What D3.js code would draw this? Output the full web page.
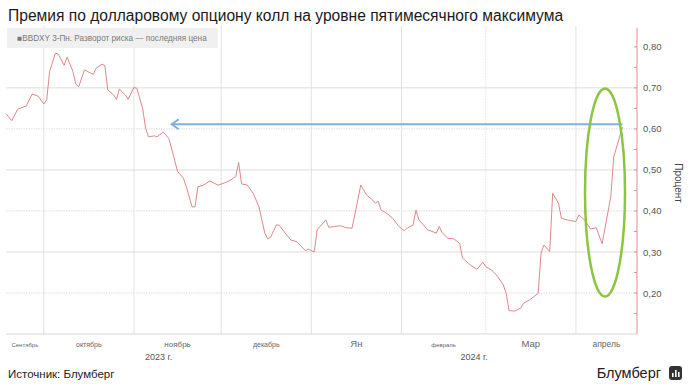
<!DOCTYPE html>
<html>
<head>
<meta charset="utf-8">
<script src="https://cdn.jsdelivr.net/npm/d3@7.9.0/dist/d3.min.js"></script>
<style>
  body { margin: 0; background: #fff; }
  svg { display: block; font-family: "Liberation Sans", Arial, sans-serif; }
</style>
</head>
<body>
<svg id="chart" width="688" height="387"></svg>
<script>
// BBDXY 3M risk reversal, last price
const dates = [
  '2023-09-18','2023-09-20','2023-09-22','2023-09-25','2023-09-27','2023-09-29',
  '2023-10-01','2023-10-02','2023-10-03','2023-10-05','2023-10-06','2023-10-08','2023-10-09',
  '2023-10-11','2023-10-12','2023-10-13','2023-10-15','2023-10-16','2023-10-18','2023-10-19',
  '2023-10-21','2023-10-22','2023-10-23','2023-10-25','2023-10-26','2023-10-27','2023-10-29','2023-10-30',
  '2023-11-01','2023-11-02','2023-11-04','2023-11-05','2023-11-06','2023-11-08','2023-11-09',
  '2023-11-11','2023-11-12','2023-11-13','2023-11-15','2023-11-16','2023-11-18','2023-11-19',
  '2023-11-21','2023-11-22','2023-11-23','2023-11-25','2023-11-27','2023-11-30',
  '2023-12-02','2023-12-04','2023-12-06','2023-12-07','2023-12-08','2023-12-10','2023-12-12',
  '2023-12-14','2023-12-16','2023-12-17','2023-12-18','2023-12-20','2023-12-21','2023-12-23',
  '2023-12-25','2023-12-27','2023-12-30','2023-12-31',
  '2024-01-02','2024-01-03','2024-01-06','2024-01-07','2024-01-09','2024-01-11','2024-01-13',
  '2024-01-15','2024-01-17','2024-01-18','2024-01-20','2024-01-22','2024-01-23','2024-01-24',
  '2024-01-25','2024-01-27','2024-01-29','2024-01-31',
  '2024-02-02','2024-02-03','2024-02-05','2024-02-06','2024-02-07','2024-02-09','2024-02-10',
  '2024-02-13','2024-02-14','2024-02-15','2024-02-17','2024-02-19','2024-02-21','2024-02-22',
  '2024-02-23','2024-02-25','2024-02-27','2024-02-29',
  '2024-03-01','2024-03-03','2024-03-05','2024-03-07','2024-03-08','2024-03-09','2024-03-11',
  '2024-03-13','2024-03-14','2024-03-16','2024-03-19','2024-03-20','2024-03-21','2024-03-23',
  '2024-03-24','2024-03-26','2024-03-27','2024-03-29',
  '2024-04-01','2024-04-02','2024-04-04','2024-04-06','2024-04-08','2024-04-10','2024-04-13',
  '2024-04-14','2024-04-17'
];
const values = [
  0.637, 0.620, 0.648, 0.656, 0.685, 0.680,
  0.661, 0.671, 0.740, 0.785, 0.782, 0.755, 0.775,
  0.740, 0.709, 0.703, 0.744, 0.740, 0.733, 0.748,
  0.758, 0.754, 0.695, 0.683, 0.672, 0.697, 0.683, 0.672,
  0.701, 0.699, 0.650, 0.602, 0.581, 0.583, 0.581,
  0.592, 0.585, 0.577, 0.524, 0.496, 0.480, 0.459,
  0.410, 0.410, 0.459, 0.463, 0.473, 0.463,
  0.468, 0.474, 0.484, 0.518, 0.466, 0.463, 0.443,
  0.410, 0.346, 0.332, 0.336, 0.366, 0.365, 0.346,
  0.329, 0.325, 0.303, 0.307,
  0.300, 0.354, 0.378, 0.360, 0.362, 0.364, 0.359,
  0.358, 0.427, 0.463, 0.439, 0.427, 0.419, 0.424,
  0.402, 0.394, 0.382, 0.363,
  0.352, 0.358, 0.366, 0.402, 0.378, 0.362, 0.354,
  0.346, 0.362, 0.347, 0.333, 0.332, 0.321, 0.285,
  0.279, 0.266, 0.258, 0.275,
  0.264, 0.256, 0.241, 0.220, 0.199, 0.157, 0.156,
  0.163, 0.175, 0.183, 0.199, 0.297, 0.317, 0.301,
  0.443, 0.419, 0.382, 0.378,
  0.374, 0.390, 0.378, 0.356, 0.359, 0.320, 0.435,
  0.532, 0.604
];

const yTicks = [0.20, 0.30, 0.40, 0.50, 0.60, 0.70, 0.80];
const monthStarts = ['2023-10-01','2023-11-01','2023-12-01','2024-01-01','2024-02-01','2024-03-01','2024-04-01'];
const monthNames = ['Сентябрь','октябрь','ноябрь','декабрь','Ян','февраль','Мар','апрель'];
const yearNames = ['2023 г.', '2024 г.'];
const arrowLevel = 0.604; // five-month high marker

const parse = d3.timeParse('%Y-%m-%d');
const data = dates.map((d, i) => ({ date: parse(d), value: values[i] }));

const svg = d3.select('#chart');
const plotLeft = 6, plotRight = 637, plotTop = 28, plotBottom = 334;

const x = d3.scaleTime()
  .domain([parse('2023-09-18'), parse('2024-04-22')])
  .range([plotLeft, plotRight]);
const y = d3.scaleLinear()
  .domain([0.10, 0.846])
  .range([plotBottom, plotTop]);

// title
svg.append('text')
  .attr('x', 8).attr('y', 21)
  .attr('font-size', 15.6).attr('fill', '#1a1a1a')
  .text('Премия по долларовому опциону колл на уровне пятимесячного максимума');

// vertical month gridlines
const starts = monthStarts.map(parse);
svg.append('g').selectAll('line').data(starts).join('line')
  .attr('x1', d => x(d)).attr('x2', d => x(d))
  .attr('y1', plotTop - 2).attr('y2', plotBottom)
  .attr('stroke', '#e2e2e2').attr('stroke-width', 1)
  .attr('stroke-dasharray', (d, i) => i === 5 ? '1.5,1' : null);

// horizontal gridlines
svg.append('g').selectAll('line').data(yTicks.filter(t => t < 0.8)).join('line')
  .attr('x1', plotLeft).attr('x2', plotRight)
  .attr('y1', d => y(d)).attr('y2', d => y(d))
  .attr('stroke', '#dcdcdc').attr('stroke-width', 1)
  .attr('stroke-dasharray', (d, i) => i % 2 ? null : '1.5,1');

// bottom baseline
svg.append('line')
  .attr('x1', plotLeft).attr('x2', plotRight)
  .attr('y1', plotBottom).attr('y2', plotBottom)
  .attr('stroke', '#d6d6d6');

// legend box
svg.append('rect')
  .attr('x', 7).attr('y', 28).attr('width', 211).attr('height', 20)
  .attr('fill', '#f0f0f0');
svg.append('text')
  .attr('x', 112).attr('y', 41)
  .attr('text-anchor', 'middle')
  .attr('font-size', 8.2).attr('fill', '#7a7a7a')
  .text('■BBDXY 3-Пн. Разворот риска — последняя цена');

// series line
const line = d3.line()
  .x(d => x(d.date))
  .y(d => y(d.value));
svg.append('path')
  .datum(data)
  .attr('fill', 'none')
  .attr('stroke', '#d77a7a')
  .attr('stroke-width', 0.9)
  .attr('d', line);

// right axis
const yAxis = d3.axisRight(y)
  .tickValues(yTicks)
  .tickSize(0)
  .tickPadding(6)
  .tickFormat(d => d3.format('.2f')(d).replace('.', ','));
const ax = svg.append('g')
  .attr('transform', `translate(${plotRight},0)`)
  .call(yAxis);
ax.select('.domain').remove();
ax.selectAll('text')
  .attr('font-size', 9.5).attr('fill', '#555')
  .attr('font-family', '"Liberation Sans", Arial, sans-serif');

svg.append('line')
  .attr('x1', plotRight).attr('x2', plotRight)
  .attr('y1', plotTop).attr('y2', plotBottom)
  .attr('stroke', '#e38c8c').attr('stroke-width', 1);
const minor = d3.range(0.15, 0.85, 0.05);
svg.append('g').selectAll('line').data(minor).join('line')
  .attr('x1', plotRight - 3).attr('x2', plotRight)
  .attr('y1', d => y(d)).attr('y2', d => y(d))
  .attr('stroke', '#e38c8c');

svg.append('text')
  .attr('transform', 'translate(675,183) rotate(90)')
  .attr('text-anchor', 'middle')
  .attr('font-size', 10).attr('fill', '#444')
  .text('Процент');

// month labels, centred in each month
const edges = [x.domain()[0], ...starts, x.domain()[1]];
const monthSizes = [6, 7, 8, 7, 9.5, 6, 9.5, 8.5];
svg.append('g').selectAll('text').data(monthNames).join('text')
  .attr('x', (d, i) => (x(edges[i]) + x(edges[i + 1])) / 2)
  .attr('y', 347)
  .attr('text-anchor', 'middle')
  .attr('font-size', (d, i) => monthSizes[i])
  .attr('fill', '#666')
  .text(d => d);

const yearEdges = [x.domain()[0], parse('2024-01-01'), x.domain()[1]];
svg.append('g').selectAll('text').data(yearNames).join('text')
  .attr('x', (d, i) => (x(yearEdges[i]) + x(yearEdges[i + 1])) / 2)
  .attr('y', 360)
  .attr('text-anchor', 'middle')
  .attr('font-size', 9).attr('fill', '#555')
  .text(d => d);

// annotations: arrow back to previous level, ellipse round the jump
const last = data[data.length - 1];
const arrowY = y(arrowLevel) - 3;
const arrowX = x(parse('2023-11-14'));
svg.append('line')
  .attr('x1', x(last.date)).attr('x2', arrowX)
  .attr('y1', arrowY).attr('y2', arrowY)
  .attr('stroke', '#7fb0de').attr('stroke-width', 2);
svg.append('path')
  .attr('d', `M${arrowX + 7},${arrowY - 5} L${arrowX},${arrowY} L${arrowX + 7},${arrowY + 5}`)
  .attr('fill', 'none')
  .attr('stroke', '#7fb0de').attr('stroke-width', 2);

svg.append('ellipse')
  .attr('cx', x(parse('2024-04-11'))).attr('cy', y(0.445))
  .attr('rx', 20).attr('ry', 104)
  .attr('fill', 'none')
  .attr('stroke', '#8cc540').attr('stroke-width', 2.5);

// footer
svg.append('text')
  .attr('x', 8).attr('y', 378)
  .attr('font-size', 11.5).attr('fill', '#222')
  .text('Источник: Блумберг');
svg.append('text')
  .attr('x', 661).attr('y', 378)
  .attr('text-anchor', 'end')
  .attr('font-size', 14.5).attr('fill', '#222')
  .text('Блумберг');
const logo = svg.append('g').attr('transform', 'translate(669,366)');
logo.append('rect').attr('width', 13).attr('height', 14).attr('rx', 3).attr('fill', '#333');
[[3, 7, 4], [6, 4, 7], [9, 6, 5]].forEach(([bx, by, bh]) => {
  logo.append('rect').attr('x', bx).attr('y', by).attr('width', 1.6).attr('height', bh).attr('fill', '#fff');
});
</script>
</body>
</html>
